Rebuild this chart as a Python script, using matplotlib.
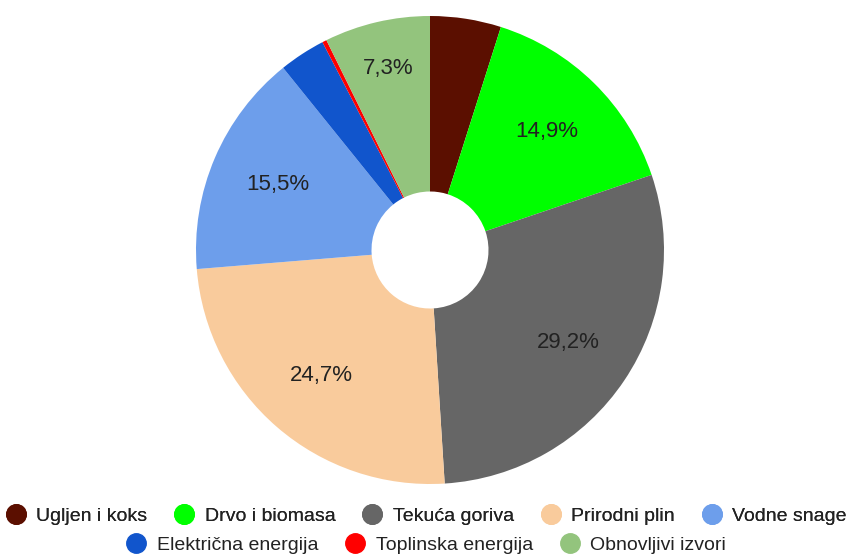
import matplotlib
matplotlib.use("Agg")
import matplotlib.pyplot as plt
from matplotlib.lines import Line2D

plt.rcParams['font.family'] = ['Liberation Sans', 'DejaVu Sans']

categories = ["Ugljen i koks", "Drvo i biomasa", "Tekuća goriva", "Prirodni plin",
              "Vodne snage", "Električna energija", "Toplinska energija", "Obnovljivi izvori"]
values = [4.9, 14.9, 29.2, 24.7, 15.5, 3.2, 0.3, 7.3]
colors = ["#5b0f00", "#00ff00", "#666666", "#f9cb9c", "#6d9eeb", "#1155cc", "#ff0000", "#93c47d"]

W, H = 851, 555
fig = plt.figure(figsize=(W / 100, H / 100), dpi=100)
cx, cy, r = 430, 250, 234
ax = fig.add_axes([(cx - r) / W, (H - cy - r) / H, 2 * r / W, 2 * r / H])

def fmt(p):
    return ("%.1f%%" % p).replace(".", ",") if p >= 5 else ""

wedges, texts, autotexts = ax.pie(values, colors=colors, startangle=90, counterclock=False,
                                  autopct=fmt, pctdistance=0.71,
                                  wedgeprops=dict(width=0.75, linewidth=0),
                                  textprops=dict(fontsize=16, color="#222222"))
# narrow slice label pushed further out
x, y = autotexts[7].get_position()
autotexts[7].set_position((x * 0.795 / 0.71, y * 0.795 / 0.71))

ax.set_xlim(-1, 1)
ax.set_ylim(-1, 1)
ax.set_aspect('equal')
ax.axis('off')

def handles(idx):
    return [Line2D([], [], marker='o', linestyle='none', markersize=14,
                   markerfacecolor=colors[i], markeredgecolor=colors[i]) for i in idx]

row1 = [0, 1, 2, 3, 4]
row2 = [5, 6, 7]
kw = dict(loc='center', frameon=False, fontsize=14, handletextpad=0.45,
          columnspacing=1.3, handlelength=1.2, labelcolor="#222222")
leg1 = fig.legend(handles(row1), [categories[i] for i in row1],
                  bbox_to_anchor=(0.5, 1 - 516 / H), ncol=5, **kw)
fig.add_artist(leg1)
leg2 = fig.legend(handles(row2), [categories[i] for i in row2],
                  bbox_to_anchor=(0.5, 1 - 545 / H), ncol=3, **kw)

fig.savefig("out.png", dpi=100)
